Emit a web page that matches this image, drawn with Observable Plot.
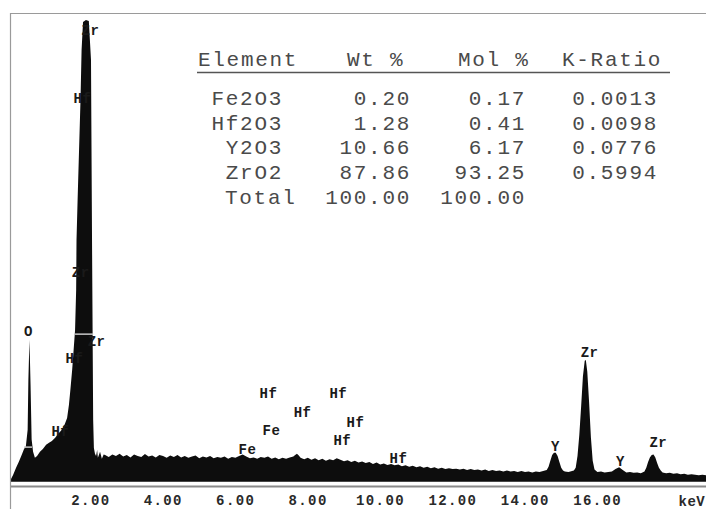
<!DOCTYPE html>
<html>
<head>
<meta charset="utf-8">
<script src="https://cdn.jsdelivr.net/npm/d3@7"></script>
<script src="https://cdn.jsdelivr.net/npm/@observablehq/plot@0.6"></script>
<style>
  html, body { margin: 0; padding: 0; background: #fff; }
  #chart { width: 706px; height: 509px; overflow: hidden; }
  #chart svg { display: block; }
</style>
</head>
<body>
<div id="chart"></div>
<script>
// EDS spectrum: [energy keV, counts]
const spectrum = [
  [0.00,6],[0.06,15],[0.14,30],[0.22,43],[0.30,58],[0.36,70],[0.41,75],[0.46,111],[0.48,217],[0.51,303],
  [0.54,207],[0.57,90],[0.61,64],[0.66,51],[0.72,55],[0.80,64],[0.88,70],[0.97,79],[1.05,83],[1.13,87],
  [1.22,94],[1.30,102],[1.38,109],[1.44,115],[1.49,124],[1.55,136],[1.60,164],[1.64,196],[1.69,239],[1.73,281],
  [1.77,324],[1.80,409],[1.81,516],[1.84,601],[1.88,708],[1.92,814],[1.95,921],[1.99,981],[2.07,985],[2.15,983],
  [2.21,900],[2.24,495],[2.27,132],[2.29,72],[2.32,60],[2.35,55],[2.38,68],[2.40,51],[2.46,64],[2.51,49],[2.56,58],
  [2.6,57],[2.7,53],[2.8,58],[2.9,55],[3.0,60],[3.1,54],[3.2,57],[3.3,52],[3.4,58],[3.5,55],[3.6,53],[3.7,59],
  [3.8,54],[3.9,56],[4.0,52],[4.1,57],[4.2,55],[4.3,51],[4.4,56],[4.5,53],[4.6,57],[4.7,52],[4.8,55],[4.9,51],
  [5.0,54],[5.1,56],[5.2,50],[5.3,54],[5.4,52],[5.5,55],[5.6,50],[5.7,53],[5.8,51],[5.9,54],[6.0,49],[6.1,53],
  [6.2,51],[6.3,55],[6.4,58],[6.5,54],[6.6,50],[6.7,52],[6.8,49],[6.9,53],[7.0,51],[7.1,54],[7.2,49],[7.3,52],
  [7.4,48],[7.5,51],[7.6,49],[7.7,52],[7.8,54],[7.85,57],[7.9,60],[7.95,56],[8.0,51],[8.1,48],[8.2,51],[8.3,47],
  [8.4,50],[8.5,46],[8.6,49],[8.7,45],[8.8,48],[8.9,46],[9.0,50],[9.1,47],[9.2,44],[9.3,46],[9.4,42],[9.5,45],
  [9.6,41],[9.7,43],[9.8,40],[9.9,42],[10.0,38],[10.1,41],[10.2,37],[10.3,39],[10.4,36],[10.5,38],[10.6,35],
  [10.7,37],[10.8,33],[10.9,35],[11.0,32],[11.1,34],[11.2,31],[11.3,33],[11.4,30],[11.5,32],[11.6,29],[11.7,31],
  [11.8,28],[11.9,30],[12.0,27],[12.1,29],[12.2,27],[12.3,28],[12.4,26],[12.5,28],[12.6,25],[12.7,27],[12.8,25],
  [12.9,26],[13.0,24],[13.1,26],[13.2,23],[13.3,25],[13.4,23],[13.5,24],[13.6,22],[13.7,24],[13.8,22],[13.9,23],
  [14.0,21],[14.1,23],[14.2,21],[14.3,22],[14.4,20],[14.5,22],[14.6,21],[14.7,23],
  [14.8,25],[14.85,32],[14.9,45],[14.95,57],[15.0,62],[15.05,62],[15.1,55],[15.15,42],[15.2,30],[15.25,24],
  [15.3,22],[15.4,21],[15.5,23],[15.55,24],[15.6,30],[15.65,55],[15.7,100],[15.75,160],[15.8,225],[15.85,258],
  [15.88,260],[15.92,235],[15.97,170],[16.02,95],[16.07,45],[16.12,26],[16.2,21],[16.3,22],[16.4,20],[16.5,21],
  [16.6,22],[16.7,27],[16.8,31],[16.9,25],[17.0,20],[17.1,21],[17.2,19],[17.3,20],[17.4,18],[17.5,22],[17.55,30],
  [17.6,42],[17.65,52],[17.7,57],[17.75,58],[17.8,52],[17.85,40],[17.9,30],[17.95,24],[18.0,20],[18.1,18],
  [18.2,19],[18.3,17],[18.4,18],[18.5,16],[18.6,17],[18.7,15],[18.8,16],[18.9,15],[19.0,14],[19.1,15],[19.2,14]
];

// Line identification markers: [energy keV, label height (counts), element]
const peakLabels = [
  [0.47,322,"O"],[2.18,964,"Zr"],[1.96,819,"Hf"],[1.91,448,"Zr"],[2.35,301,"Zr"],
  [1.74,264,"Hf"],[1.35,109,"Hf"],[7.10,190,"Hf"],[9.03,190,"Hf"],[8.04,149,"Hf"],
  [7.18,111,"Fe"],[9.50,128,"Hf"],[9.14,90,"Hf"],[6.52,70,"Fe"],[10.69,51,"Hf"],
  [15.97,277,"Zr"],[15.03,77,"Y"],[16.82,45,"Y"],[17.87,85,"Zr"]
];

// Integration windows drawn across the O and Zr L peaks: [from keV, to keV, counts]
const roiMarkers = [[0.36,0.58,75],[1.77,2.27,316]];

const tickValues = [2, 4, 6, 8, 10, 12, 14, 16];

// Quantification results
const compounds = ["Fe2O3", "Hf2O3", "Y2O3", "ZrO2"];
const wtPct = [0.20, 1.28, 10.66, 87.86];
const molPct = [0.17, 0.41, 6.17, 93.25];
const kRatio = [0.0013, 0.0098, 0.0776, 0.5994];
const headers = ["Element", "Wt %", "Mol %", "K-Ratio"];

const mono = "'Liberation Mono', 'Courier New', monospace";

const chart = Plot.plot({
  width: 706,
  height: 509,
  marginLeft: 11,
  marginRight: 0,
  marginTop: 13,
  marginBottom: 23,
  style: { background: "#fff", fontFamily: mono },
  x: { domain: [0, 19.2] },
  y: { domain: [-9, 1000], axis: null },
  marks: [
    Plot.areaY(spectrum, { x: d => d[0], y: d => d[1], fill: "#0d0d0d" }),
    Plot.ruleY(roiMarkers, { x1: d => d[0], x2: d => d[1], y: d => d[2], stroke: "#c8c8c8", strokeWidth: 1.5 }),
    Plot.text(peakLabels, {
      x: d => d[0], y: d => d[1], text: d => d[2],
      fontFamily: mono, fontSize: 14, fontWeight: "bold", fill: "#1a1a1a",
      lineAnchor: "middle", textAnchor: "middle"
    }),
    Plot.ruleY([1000], { stroke: "#9a9a9a", strokeWidth: 1.2 }),
    Plot.ruleY([-9], { stroke: "#8a8a8a", strokeWidth: 2 }),
    Plot.axisX(tickValues, {
      tickSize: 0, tickPadding: 9, dx: 7,
      tickFormat: d => d.toFixed(2),
      fontSize: 14, fontWeight: "bold", fill: "#2a2a2a", label: null
    }),
    Plot.text(["keV"], {
      frameAnchor: "bottom-right", dx: -28, dy: 15,
      textAnchor: "start", lineAnchor: "middle",
      fontFamily: mono, fontSize: 14, fontWeight: "bold", fill: "#2a2a2a"
    })
  ]
});

const svg = d3.select(chart);
svg.selectAll("text").attr("letter-spacing", 0.5);
// tick labels set a little wider
svg.selectAll("g[aria-label='x-axis tick label'] text").attr("letter-spacing", 1.4);

// left border running the full height of the panel
svg.append("line")
  .attr("x1", 10.5).attr("x2", 10.5).attr("y1", 13).attr("y2", 509)
  .attr("stroke", "#9a9a9a").attr("stroke-width", 1.2);

// results table
const tbl = svg.append("g")
  .attr("font-family", mono)
  .attr("font-size", 21)
  .attr("letter-spacing", 1.7)
  .attr("text-anchor", "start")
  .attr("fill", "#4a4a4a");

const headerX = [198, 347, 458, 562];
headers.forEach((h, i) => {
  tbl.append("text").attr("x", headerX[i]).attr("y", 66).attr("text-anchor", "start").text(h);
});
tbl.append("line")
  .attr("x1", 197).attr("x2", 670).attr("y1", 72.5).attr("y2", 72.5)
  .attr("stroke", "#555").attr("stroke-width", 1.5);

const rowY = i => 105 + i * 24.7;
const cell = (x, y, s) => tbl.append("text").attr("x", x).attr("y", y).attr("text-anchor", "end").text(s);
compounds.forEach((c, i) => {
  cell(283, rowY(i), c);
  cell(411, rowY(i), wtPct[i].toFixed(2));
  cell(526, rowY(i), molPct[i].toFixed(2));
  cell(658, rowY(i), kRatio[i].toFixed(4));
});
const totalY = rowY(compounds.length);
tbl.append("text").attr("x", 225).attr("y", totalY).attr("text-anchor", "start").text("Total");
cell(411, totalY, d3.sum(wtPct).toFixed(2));
cell(526, totalY, d3.sum(molPct).toFixed(2));

document.getElementById("chart").appendChild(chart);
</script>
</body>
</html>
